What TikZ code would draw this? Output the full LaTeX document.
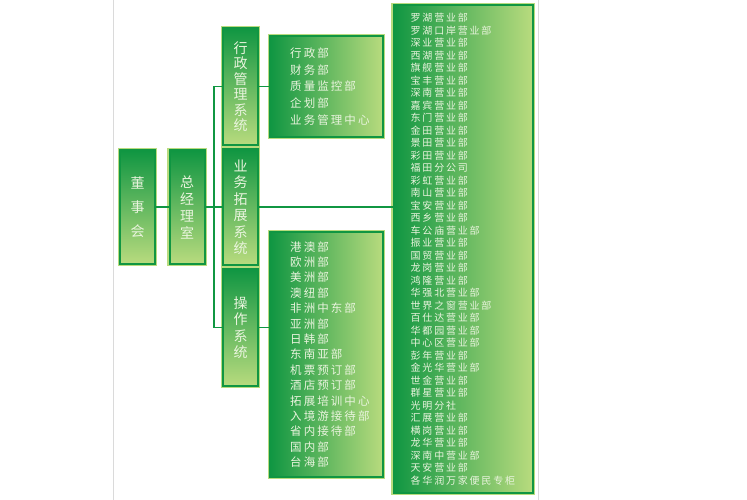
\documentclass[tikz,border=0pt]{standalone}
\usepackage{fontspec}
\usetikzlibrary{positioning}
\newfontfamily\cjk{Noto Sans CJK SC}
\newfontfamily\cjkwide[LetterSpace=18]{Noto Sans CJK SC}
\definecolor{colordark}  {RGB}{16 ,150,66 }
\definecolor{colorlight} {RGB}{184,219,126}
\definecolor{colortext}  {RGB}{234,244,222}
\definecolor{colorrule}  {RGB}{218,218,218}

\begin{document}
\begin{tikzpicture}[
    x=1pt, y=-1pt,
    base/.style={draw=colordark,line width=2pt,outer sep=0pt,inner sep=0pt,
        preaction={draw=colorlight,line width=4.5pt}},
    vbox/.style={base,top color=colordark,bottom color=colorlight,text=colortext,
        align=center,minimum width=35pt},
    hbox/.style={base,left color=colordark,right color=colorlight},
    txt/.style={text=colortext,align=left,inner sep=0pt,anchor=west},
    link/.style={colordark,line width=1.5pt},
]
    \useasboundingbox (0,0) rectangle (747,500);

    % Page rules
    \draw[colorrule,line width=1pt] (113,0) -- (113,500);
    \draw[colorrule,line width=1pt] (538,0) -- (538,500);

    % Board and management
    \node[vbox,minimum height=113pt,font={\cjk\fontsize{14}{24}\selectfont}] at (137.5,207) (board) {董\\事\\会};
    \node[vbox,minimum height=113pt,font={\cjk\fontsize{14}{17}\selectfont}] at (187,207) (gm) {总\\经\\理\\室};

    % Systems
    \node[vbox,minimum height=117pt,font={\cjk\fontsize{14}{15.5}\selectfont}] at (240.5,86.5) (admin) {行\\政\\管\\理\\系\\统};
    \node[vbox,minimum height=115pt,font={\cjk\fontsize{14}{16.5}\selectfont}] at (240.5,207) (biz) {业\\务\\拓\\展\\系\\统};
    \node[vbox,minimum height=117pt,font={\cjk\fontsize{14}{16.5}\selectfont}] at (240.5,327.5) (ops) {操\\作\\系\\统};

    % Departments
    \node[hbox,minimum width=113pt,minimum height=101pt] at (326.5,86.5) (admdept) {};
    \node[txt,font={\cjkwide\fontsize{11.5}{16.7}\selectfont}] at ([xshift=20pt]admdept.west) (admlist)
        {行政部\\财务部\\质量监控部\\企划部\\业务管理中心};
    \node[hbox,minimum width=113pt,minimum height=245pt] at (326.5,354.5) (opsdept) {};
    \node[txt,font={\cjkwide\fontsize{11.5}{15.4}\selectfont}] at ([xshift=20pt]opsdept.west) (opslist)
        {港澳部\\欧洲部\\美洲部\\澳纽部\\非洲中东部\\亚洲部\\日韩部\\东南亚部\\机票预订部\\酒店预订部\\拓展培训中心\\入境游接待部\\省内接待部\\国内部\\台海部};

    % Branches
    \node[hbox,minimum width=139pt,minimum height=488pt] at (463,249) (branches) {};
    \node[txt,font={\cjkwide\fontsize{10}{12.5}\selectfont}] at ([xshift=17pt]branches.west) (branchlist)
        {罗湖营业部\\罗湖口岸营业部\\深业营业部\\西湖营业部\\旗舰营业部\\宝丰营业部\\深南营业部\\嘉宾营业部\\东门营业部\\金田营业部\\景田营业部\\彩田营业部\\福田分公司\\彩虹营业部\\南山营业部\\宝安营业部\\西乡营业部\\车公庙营业部\\振业营业部\\国贸营业部\\龙岗营业部\\鸿隆营业部\\华强北营业部\\世界之窗营业部\\百仕达营业部\\华都园营业部\\中心区营业部\\彭年营业部\\金光华营业部\\世金营业部\\群星营业部\\光明分社\\汇展营业部\\横岗营业部\\龙华营业部\\深南中营业部\\天安营业部\\各华润万家便民专柜};

    % Links
    \coordinate (fork) at (214,207);
    \draw[link] (board.east) -- (gm.west);
    \draw[link] (gm.east) -- (biz.west);
    \draw[link] (admin.west) -- (admin.west -| fork) -- (ops.west -| fork) -- (ops.west);
    \draw[link] (biz.east) -- (branches.west |- biz.east);
    \draw[link] (admin.east) -- (admdept.west |- admin.east);
    \draw[link] (ops.east) -- (opsdept.west |- ops.east);

\end{tikzpicture}
\end{document}
